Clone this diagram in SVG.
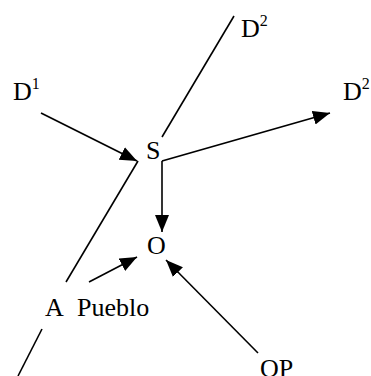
<svg xmlns="http://www.w3.org/2000/svg" width="371" height="376" viewBox="0 0 371 376">
<style>
text{font-family:"Liberation Serif","Times New Roman",serif;font-size:26px;fill:#000}
.sup{font-size:16px}
.ln{stroke:#000;stroke-width:1.6;fill:none}
.ar{marker-end:url(#ah)}
</style>
<defs>
<marker id="ah" markerUnits="userSpaceOnUse" markerWidth="19" markerHeight="15" refX="17" refY="7" orient="auto">
<path d="M0,0 L17,7 L0,14 Z" fill="#000"/>
</marker>
</defs>
<g id="connectors">
<line class="ln" x1="234" y1="16" x2="162" y2="137"/>
<line class="ln ar" x1="41" y1="113" x2="137" y2="161"/>
<line class="ln ar" x1="162" y1="161" x2="162" y2="232"/>
<line class="ln ar" x1="162" y1="161" x2="330" y2="113"/>
<line class="ln" x1="138" y1="161" x2="66" y2="282"/>
<line class="ln" x1="42" y1="329" x2="18" y2="376"/>
<line class="ln ar" x1="89" y1="282" x2="137" y2="257"/>
<line class="ln ar" x1="258" y1="353" x2="166" y2="260"/>
</g>
<g id="node-D2-top"><text x="241" y="37">D<tspan class="sup" dy="-11">2</tspan></text></g>
<g id="node-D1"><text x="13" y="100">D<tspan class="sup" dy="-11">1</tspan></text></g>
<g id="node-D2-right"><text x="343" y="100">D<tspan class="sup" dy="-11">2</tspan></text></g>
<g id="node-S"><text x="146" y="159">S</text></g>
<g id="node-O"><text x="147" y="254">O</text></g>
<g id="node-A"><text x="45" y="316">A</text></g>
<g id="node-Pueblo"><text x="77" y="316">Pueblo</text></g>
<g id="node-OP"><text x="260" y="377">OP</text></g>
</svg>
